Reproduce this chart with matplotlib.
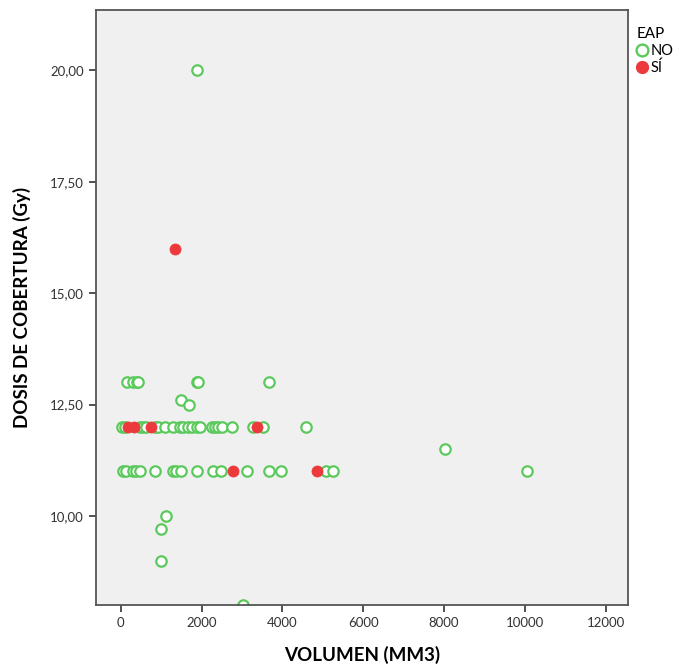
import matplotlib.pyplot as plt
import matplotlib
from matplotlib.ticker import FuncFormatter
from matplotlib.lines import Line2D

matplotlib.rcParams['font.family'] = ['Lato', 'DejaVu Sans']

# volumen (mm3) y dosis de cobertura (Gy), EAP = NO
vol_no = [1890, 140, 300, 400, 430, 1880, 1920, 3660,
          1490, 1690,
          20, 100, 470, 545, 620, 840, 915, 1090, 1290, 1460, 1535, 1660,
          1760, 1880, 1955, 2250, 2325, 2400, 2500, 2760, 3270, 3515, 4580,
          50, 125, 305, 370, 470, 840, 1280, 1360, 1485, 1875, 2285, 2475,
          3125, 3670, 3960, 5075, 5255, 10050,
          8020, 1110, 990, 990, 3030]
dosis_no = [20, 13, 13, 13, 13, 13, 13, 13,
            12.6, 12.5,
            12, 12, 12, 12, 12, 12, 12, 12, 12, 12, 12, 12,
            12, 12, 12, 12, 12, 12, 12, 12, 12, 12, 12,
            11, 11, 11, 11, 11, 11, 11, 11, 11, 11, 11, 11,
            11, 11, 11, 11, 11, 11,
            11.5, 10, 9.7, 9, 8]

# EAP = SÍ
vol_si = [1340, 180, 330, 750, 3375, 2780, 4860]
dosis_si = [16, 12, 12, 12, 12, 11, 11]

x_ticks = [0, 2000, 4000, 6000, 8000, 10000, 12000]
y_ticks = [10, 12.5, 15, 17.5, 20]

green = '#5cc95c'
red = '#ec3a3c'
grey = '#555555'

fig = plt.figure(figsize=(6.75, 6.68), dpi=100)
ax = fig.add_axes([0.142, 0.094, 0.788, 0.891])
ax.set_facecolor('#f0f0f0')

ax.plot(vol_no, dosis_no, 'o', ms=7.5, mfc='white', mec=green, mew=1.6, ls='none')
ax.plot(vol_si, dosis_si, 'o', ms=8, mfc=red, mec=red, mew=0.5, ls='none')

ax.set_xlim(-620, 12550)
ax.set_ylim(8.0, 21.35)
ax.set_xticks(x_ticks)
ax.set_yticks(y_ticks)
ax.xaxis.set_major_formatter(FuncFormatter(lambda v, p: f'{int(v)}'))
ax.yaxis.set_major_formatter(FuncFormatter(lambda v, p: f'{v:.2f}'.replace('.', ',')))
ax.tick_params(direction='out', length=5, width=1.2, colors='#333333',
               labelsize=9.5, labelcolor='#333333')
for s in ax.spines.values():
    s.set_color(grey)
    s.set_linewidth(1.3)

ax.set_xlabel('VOLUMEN (MM3)', fontsize=13.5, fontweight='bold', labelpad=12)
ax.set_ylabel('DOSIS DE COBERTURA (Gy)', fontsize=13.5, fontweight='bold', labelpad=14)

# leyenda fuera del área de trazado, a la derecha
handles = [Line2D([], [], marker='o', ls='none', ms=8.5, mfc='white', mec=green, mew=1.7),
           Line2D([], [], marker='o', ls='none', ms=8.5, mfc=red, mec=red)]
leg = fig.legend(handles, ['NO', 'SÍ'], title='EAP', loc='upper left',
                 bbox_to_anchor=(0.928, 0.975), frameon=False, fontsize=10.5,
                 title_fontsize=11, handletextpad=0.15, handlelength=0.8,
                 borderpad=0.2, labelspacing=0.2, alignment='left')

fig.savefig('out.png', dpi=100)
